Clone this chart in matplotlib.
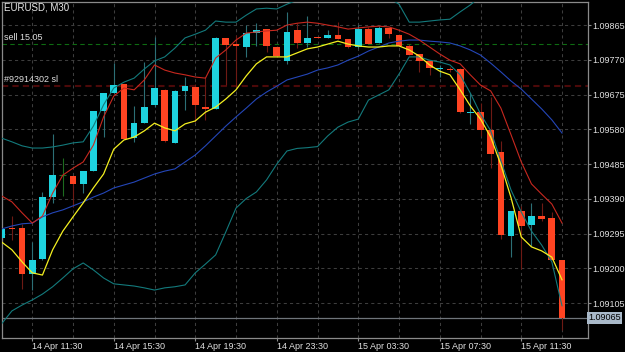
import matplotlib.pyplot as plt
from matplotlib.transforms import blended_transform_factory

# EURUSD M30 candles, bar 0 = 14 Apr 11:30 (one bar = 30 min)
bars = list(range(-3, 53))
opens = [1.09283, 1.09310, 1.09310, 1.09184, 1.09225, 1.09396, 1.09454, 1.09453,
         1.09431, 1.09467, 1.09631, 1.09680, 1.09703, 1.09557, 1.09598, 1.09646,
         1.09688, 1.09544, 1.09686, 1.09697, 1.09642, 1.09635, 1.09829, 1.09812,
         1.09806, 1.09842, 1.09853, 1.09806, 1.09767, 1.09851, 1.09817, 1.09832,
         1.09830, 1.09838, 1.09827, 1.09804, 1.09854, 1.09815, 1.09856, 1.09838,
         1.09809, 1.09786, 1.09768, 1.09746, 1.09746, 1.09745, 1.09626, 1.09627,
         1.09578, 1.09518, 1.09290, 1.09358, 1.09318, 1.09342, 1.09337, 1.09223]
highs = [1.09311, 1.09344, 1.09321, 1.09273, 1.09408, 1.09567, 1.09501, 1.09453,
         1.09466, 1.09630, 1.09679, 1.09760, 1.09704, 1.09644, 1.09765, 1.09833,
         1.09690, 1.09688, 1.09724, 1.09704, 1.09724, 1.09833, 1.09830, 1.09838,
         1.09865, 1.09870, 1.09854, 1.09808, 1.09901, 1.09870, 1.09890, 1.09833,
         1.09851, 1.09874, 1.09827, 1.09865, 1.09860, 1.09862, 1.09856, 1.09840,
         1.09813, 1.09786, 1.09768, 1.09756, 1.09750, 1.09747, 1.09680, 1.09652,
         1.09669, 1.09548, 1.09357, 1.09372, 1.09380, 1.09378, 1.09354, 1.09223]
lows = [1.09278, 1.09278, 1.09143, 1.09142, 1.09223, 1.09380, 1.09399, 1.09369,
        1.09405, 1.09467, 1.09560, 1.09680, 1.09553, 1.09546, 1.09598, 1.09641,
        1.09545, 1.09543, 1.09633, 1.09600, 1.09606, 1.09635, 1.09701, 1.09697,
        1.09779, 1.09808, 1.09792, 1.09778, 1.09759, 1.09801, 1.09806, 1.09829,
        1.09830, 1.09827, 1.09801, 1.09801, 1.09813, 1.09815, 1.09829, 1.09809,
        1.09783, 1.09737, 1.09729, 1.09724, 1.09737, 1.09625, 1.09594, 1.09562,
        1.09475, 1.09280, 1.09232, 1.09198, 1.09261, 1.09330, 1.09222, 1.09032]
closes = [1.09307, 1.09307, 1.09184, 1.09222, 1.09395, 1.09454, 1.09454, 1.09430,
          1.09466, 1.09630, 1.09679, 1.09701, 1.09553, 1.09598, 1.09640, 1.09692,
          1.09547, 1.09685, 1.09698, 1.09647, 1.09635, 1.09829, 1.09810, 1.09807,
          1.09842, 1.09851, 1.09808, 1.09780, 1.09847, 1.09815, 1.09831, 1.09830,
          1.09838, 1.09827, 1.09804, 1.09854, 1.09813, 1.09858, 1.09840, 1.09809,
          1.09783, 1.09768, 1.09747, 1.09748, 1.09742, 1.09627, 1.09628, 1.09578,
          1.09514, 1.09292, 1.09357, 1.09317, 1.09342, 1.09336, 1.09223, 1.09065]

# indicators, one value per bar
ma_fast = [1.09272, 1.09251, 1.09218, 1.09188, 1.09182, 1.09251, 1.09302, 1.09341,
           1.09379, 1.09420, 1.09458, 1.09526, 1.09551, 1.09559, 1.09576, 1.09597,
           1.09584, 1.09576, 1.09595, 1.09603, 1.09627, 1.09641, 1.09663, 1.09688,
           1.09726, 1.09759, 1.09778, 1.09778, 1.09778, 1.09789, 1.09800, 1.09805,
           1.09813, 1.09821, 1.09813, 1.09808, 1.09805, 1.09805, 1.09808, 1.09808,
           1.09797, 1.09780, 1.09756, 1.09739, 1.09729, 1.09688, 1.09644, 1.09608,
           1.09559, 1.09483, 1.09393, 1.09286, 1.09259, 1.09248, 1.09231, 1.09169]
ma_slow = [1.09398, 1.09382, 1.09352, 1.09324, 1.09343, 1.09406, 1.09455, 1.09474,
           1.09491, 1.09537, 1.09614, 1.09671, 1.09693, 1.09688, 1.09715, 1.09756,
           1.09742, 1.09734, 1.09729, 1.09723, 1.09720, 1.09775, 1.09797, 1.09824,
           1.09843, 1.09846, 1.09849, 1.09851, 1.09865, 1.09870, 1.09873, 1.09870,
           1.09865, 1.09860, 1.09854, 1.09857, 1.09860, 1.09862, 1.09860, 1.09851,
           1.09840, 1.09824, 1.09805, 1.09786, 1.09769, 1.09759, 1.09729, 1.09701,
           1.09685, 1.09638, 1.09565, 1.09491, 1.09431, 1.09403, 1.09376, 1.09324]
bb_mid = [1.09308, 1.09316, 1.09322, 1.09324, 1.09341, 1.09352, 1.09360, 1.09371,
          1.09382, 1.09395, 1.09406, 1.09420, 1.09428, 1.09436, 1.09447, 1.09458,
          1.09466, 1.09472, 1.09491, 1.09510, 1.09535, 1.09562, 1.09589, 1.09614,
          1.09638, 1.09663, 1.09682, 1.09698, 1.09715, 1.09723, 1.09731, 1.09742,
          1.09748, 1.09756, 1.09769, 1.09780, 1.09794, 1.09805, 1.09816, 1.09821,
          1.09824, 1.09824, 1.09821, 1.09819, 1.09816, 1.09808, 1.09797, 1.09783,
          1.09761, 1.09737, 1.09712, 1.09690, 1.09663, 1.09636, 1.09606, 1.09570]
bb_lower = [1.09049, 1.09084, 1.09100, 1.09114, 1.09130, 1.09150, 1.09174, 1.09199,
            1.09215, 1.09196, 1.09174, 1.09158, 1.09155, 1.09152, 1.09147, 1.09141,
            1.09147, 1.09150, 1.09155, 1.09188, 1.09212, 1.09237, 1.09300, 1.09365,
            1.09391, 1.09409, 1.09442, 1.09485, 1.09521, 1.09528, 1.09530, 1.09533,
            1.09562, 1.09586, 1.09600, 1.09608, 1.09660, 1.09674, 1.09688, 1.09731,
            1.09778, 1.09778, 1.09769, 1.09764, 1.09756, 1.09729, 1.09679, 1.09622,
            1.09576, 1.09494, 1.09414, 1.09354, 1.09302, 1.09264, 1.09218, 1.09098]
# upper band leaves the window after bar 46
bb_upper = [1.09556, 1.09546, 1.09535, 1.09529, 1.09529, 1.09532, 1.09537, 1.09543,
            1.09546, 1.09589, 1.09647, 1.09693, 1.09709, 1.09720, 1.09745, 1.09767,
            1.09778, 1.09802, 1.09830, 1.09840, 1.09851, 1.09876, 1.09873, 1.09873,
            1.09892, 1.09909, 1.09911, 1.09909, 1.09922, 1.09933, 1.09944, 1.09955,
            1.09961, 1.09961, 1.09961, 1.09955, 1.09950, 1.09944, 1.09939, 1.09922,
            1.09873, 1.09873, 1.09876, 1.09879, 1.09881, 1.09901, 1.09920, 1.09944,
            1.09961, 1.09990]

price_ticks = [1.09865, 1.09770, 1.09675, 1.09580, 1.09485, 1.09390, 1.09295, 1.09200, 1.09105]
time_grid = list(range(0, 53, 4))
time_labels = ['14 Apr 11:30', '14 Apr 15:30', '14 Apr 19:30', '14 Apr 23:30',
               '15 Apr 03:30', '15 Apr 07:30', '15 Apr 11:30']
sell_level = 1.09813
sl_level = 1.09698
last_price = 1.09065

plt.rcParams['font.family'] = ['Liberation Sans', 'DejaVu Sans']
fig = plt.figure(figsize=(6.25, 3.52), dpi=100, facecolor='black')
ax = fig.add_axes([2 / 625, 14 / 352, 586 / 625, 336 / 352], facecolor='black')

ax.set_xlim(-2.97, 54.55)
ax.set_ylim(1.09010, 1.09928)

# grid
for t in time_grid:
    ax.axvline(t, color='#3d3d3d', lw=0.75, ls=(0, (3, 3)), zorder=0)
for p in price_ticks:
    ax.axhline(p, color='#3d3d3d', lw=0.75, ls=(0, (3, 3)), zorder=0)

# order levels
ax.axhline(sell_level, color='#0e6b12', lw=0.8, ls=(0, (4, 3)), zorder=1)
ax.axhline(sl_level, color='#4c0909', lw=1.5, ls=(0, (3, 2)), zorder=1)
ax.axhline(last_price, color='#6f747a', lw=0.9, zorder=1)
tr = blended_transform_factory(ax.transAxes, ax.transData)
ax.annotate('sell 15.05', (0.004, sell_level), xycoords=tr, xytext=(0, 1.5),
            textcoords='offset points', color='#e0e0e0', fontsize=6.5, va='bottom')
ax.annotate('#92914302 sl', (0.004, sl_level), xycoords=tr, xytext=(0, 1.5),
            textcoords='offset points', color='#e0e0e0', fontsize=6.5, va='bottom')

# candles
for b, o, h, l, c in zip(bars, opens, highs, lows, closes):
    if o == c:
        ax.vlines(b, l, h, color='#1d6b1f', lw=0.8, zorder=2)
        ax.hlines(o, b - 0.33, b + 0.33, color='#1d6b1f', lw=0.8, zorder=2)
        continue
    up = c > o
    body = '#1ed3df' if up else '#ff4422'
    wick = '#2c6f76' if up else '#6e1a14'
    ax.vlines(b, l, h, color=wick, lw=0.8, zorder=2)
    ax.bar(b, max(abs(c - o), 0.000025), bottom=min(o, c), width=0.66,
           color=body, lw=0, zorder=3)

# indicators
ax.plot(bars[:len(bb_upper)], bb_upper, color='#137a7c', lw=0.8, zorder=4)
ax.plot(bars, bb_lower, color='#137a7c', lw=0.8, zorder=4)
ax.plot(bars, bb_mid, color='#2446b8', lw=0.8, zorder=4)
ax.plot(bars, ma_slow, color='#c8281f', lw=0.8, zorder=4)
ax.plot(bars, ma_fast, color='#f4f020', lw=0.9, zorder=5)

# axes
for s in ax.spines.values():
    s.set_color('#8a8a8a')
    s.set_linewidth(0.9)
ax.yaxis.tick_right()
ax.set_yticks(price_ticks)
ax.set_yticklabels([f'{p:.5f}' for p in price_ticks])
ax.set_xticks(time_grid[::2])
ax.set_xticklabels(time_labels, ha='left')
ax.tick_params(colors='#8a8a8a', labelcolor='#e0e0e0', labelsize=6.5, length=2, width=0.8)
ax.tick_params(axis='y', pad=1.2)
ax.tick_params(axis='x', pad=0.6)

ax.text(1.0, last_price, f'{last_price:.5f}', transform=tr, fontsize=6.5, color='black',
        va='center', ha='left',
        bbox=dict(boxstyle='square,pad=0.15', fc='#a9b9c9', ec='none'), clip_on=False)

fig.text(4 / 625, 1 - 8 / 352, 'EURUSD, M30', color='#e8e8e8', fontsize=7, va='center')

fig.savefig('out.png', dpi=100, facecolor='black')
